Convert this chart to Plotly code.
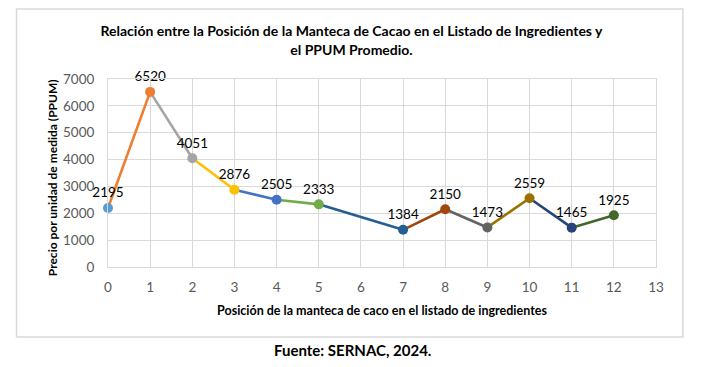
import plotly.graph_objects as go

positions = [0, 1, 2, 3, 4, 5, 7, 8, 9, 10, 11, 12]
ppum = [2195, 6520, 4051, 2876, 2505, 2333, 1384, 2150, 1473, 2559, 1465, 1925]
point_colors = ["#5B9BD5", "#ED7D31", "#A5A5A5", "#FFC000", "#4472C4", "#70AD47",
                "#255E91", "#9E480E", "#636363", "#997300", "#264478", "#43682B"]

title_text = "Relación entre la Posición de la Manteca de Cacao en el Listado de Ingredientes y<br>el PPUM Promedio."
x_title = "Posición de la manteca de caco en el listado de ingredientes"
y_title = "Precio por unidad de medida (PPUM)"
source_text = "Fuente: SERNAC, 2024."

FONT = "Lato, Open Sans, sans-serif"

fig = go.Figure()

for i in range(1, len(positions)):
    fig.add_trace(go.Scatter(
        x=[positions[i - 1], positions[i]], y=[ppum[i - 1], ppum[i]],
        mode="lines", line=dict(color=point_colors[i], width=2.6),
        hoverinfo="skip", showlegend=False, cliponaxis=False))

fig.add_trace(go.Scatter(
    x=positions, y=ppum, mode="markers+text",
    marker=dict(color=point_colors, size=10),
    text=[str(v) for v in ppum], textposition="top center",
    textfont=dict(family=FONT, size=13.5, color="#000000"),
    showlegend=False, cliponaxis=False))

fig.update_layout(
    width=703, height=367,
    margin=dict(l=108, r=47, t=79, b=100),
    paper_bgcolor="white", plot_bgcolor="white",
    font=dict(family=FONT),
    title=dict(text="<b>" + title_text.replace("<br>", "</b><br><b>") + "</b>",
               x=0.5, xanchor="center", y=0.901, yanchor="middle",
               font=dict(family=FONT, size=14, color="#000000")),
    xaxis=dict(range=[0, 13], dtick=1, tick0=0, showgrid=True, gridcolor="#D9D9D9",
               gridwidth=1, zeroline=False, showline=True, linecolor="#D9D9D9",
               mirror=True, ticks="", automargin=False, ticklabelstandoff=8,
               tickfont=dict(family=FONT, size=13.5, color="#595959"),
               title=dict(text="<b>" + x_title + "</b>", standoff=12,
                          font=dict(family=FONT, size=12.5, color="#000000"))),
    yaxis=dict(range=[0, 7000], dtick=1000, showgrid=True, gridcolor="#D9D9D9",
               gridwidth=1, zeroline=False, showline=True, linecolor="#D9D9D9",
               mirror=True, ticks="", automargin=False, ticklabelstandoff=10,
               tickfont=dict(family=FONT, size=13.5, color="#595959")),
)

fig.add_annotation(text="<b>" + y_title + "</b>", xref="paper", yref="paper",
                   x=-0.102, y=0.473, showarrow=False, textangle=-90,
                   xanchor="center", yanchor="middle",
                   font=dict(family=FONT, size=12, color="#000000"))

fig.add_shape(type="rect", xref="paper", yref="paper",
              x0=-0.167, x1=1.049, y0=-0.372, y1=1.372,
              line=dict(color="#D9D9D9", width=1.5), layer="below")

fig.add_annotation(text="<b>" + source_text + "</b>", xref="paper", yref="paper",
                   x=0.447, y=-0.441, showarrow=False, xanchor="center", yanchor="middle",
                   font=dict(family=FONT, size=15, color="#000000"))

fig.write_html("out.html", config={"displayModeBar": False},
               post_script="document.body.style.margin='0';")
